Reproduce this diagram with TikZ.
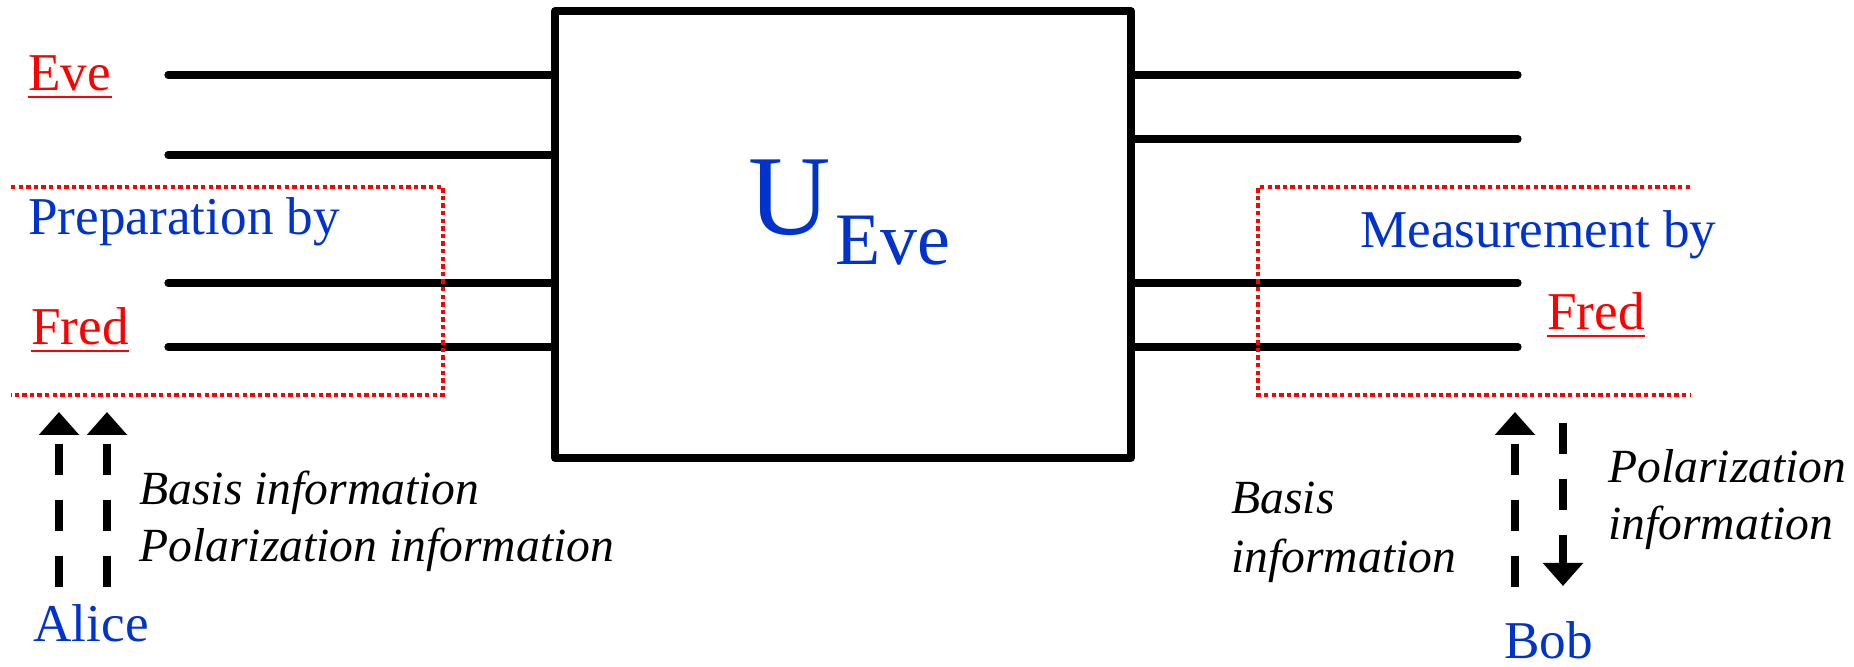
\documentclass[tikz,border=0pt]{standalone}
\usepackage{fontspec}
\setmainfont{LiberationSerif}[Extension=.ttf,UprightFont=*-Regular,ItalicFont=*-Italic,BoldFont=*-Bold,BoldItalicFont=*-BoldItalic]
\usetikzlibrary{arrows.meta}
\definecolor{ublue}{RGB}{0,51,204}
\begin{document}
\begin{tikzpicture}[x=0.5pt,y=-0.5pt,
  wire/.style={line width=3.6pt,line cap=round},
  lbl/.style={inner sep=0,anchor=base west,font=\fontsize{26.6}{30}\selectfont},
  who/.style={lbl,text=ublue},
  party/.style={lbl,text=red},
  info/.style={inner sep=0,anchor=base west,font=\fontsize{23.8}{27}\selectfont\itshape},
  zone/.style={red,line width=1.9pt,dash pattern=on 2.2pt off 1.6pt},
  flow/.style={line width=4.1pt,dash pattern=on 15.5pt off 12.5pt,
    -{Triangle[width=19.5pt,length=11.5pt]}},
  uline/.style={red,line width=1.1pt}]
\useasboundingbox (0,0) rectangle (1854,667);

% the unitary box
\node[draw,line width=3.7pt,line join=round,inner sep=0,
      minimum width=288pt,minimum height=223.5pt] (box) at (843,234.5) {};
\node[inner sep=0,anchor=base west,text=ublue,font=\fontsize{57}{60}\selectfont] (uu) at (748,235) {U};
\node[inner sep=0,anchor=base west,text=ublue,font=\fontsize{37}{40}\selectfont] (usub) at (835,265) {Eve};

% input wires
\coordinate (l1) at (168,75);
\coordinate (l2) at (168,155);
\coordinate (l3) at (168,283);
\coordinate (l4) at (168,347);
\foreach \w in {l1,l2,l3,l4} \draw[wire] (\w) -- (\w -| box.west);

% output wires
\coordinate (r1) at (1518,75);
\coordinate (r2) at (1518,139);
\coordinate (r3) at (1518,283);
\coordinate (r4) at (1518,347);
\foreach \w in {r1,r2,r3,r4} \draw[wire] (\w -| box.east) -- (\w);

% Fred's regions
\coordinate (pz1) at (11,187);
\coordinate (pz2) at (443,187);
\coordinate (pz3) at (443,395);
\coordinate (pz4) at (11,395);
\draw[zone] (pz1) -- (pz2) -- (pz3) -- (pz4);
\coordinate (mz1) at (1690,187);
\coordinate (mz2) at (1258,187);
\coordinate (mz3) at (1258,395);
\coordinate (mz4) at (1690,395);
\draw[zone] (mz1) -- (mz2) -- (mz3) -- (mz4);

% left labels
\node[party] (eve) at (28,91) {Eve};
\draw[uline] ([yshift=-2.9pt]eve.base west) -- ([yshift=-2.9pt]eve.base east);
\node[who] (prep) at (28,235) {Preparation by};
\node[party] (fredL) at (31,345) {Fred};
\draw[uline] ([yshift=-2.9pt]fredL.base west) -- ([yshift=-2.9pt]fredL.base east);
\node[who] (alice) at (33,642) {Alice};
\node[info] (basisL) at (139,505) {Basis information};
\node[info] (polL) at (139,562) {Polarization information};

% right labels
\node[who] (meas) at (1360,248) {Measurement by};
\node[party] (fredR) at (1547,330) {Fred};
\draw[uline] ([yshift=-2.9pt]fredR.base west) -- ([yshift=-2.9pt]fredR.base east);
\node[who] (bob) at (1504,659) {Bob};
\node[info] (basisR) at (1231,514) {Basis};
\node[info] (basisR2) at (1231,573) {information};
\node[info] (polR) at (1608,483) {Polarization};
\node[info] (polR2) at (1608,540) {information};

% classical information flows
\coordinate (a1s) at (59,587);
\coordinate (a1e) at (59,412);
\coordinate (a2s) at (107,587);
\coordinate (a2e) at (107,412);
\draw[flow] (a1s) -- (a1e);
\draw[flow] (a2s) -- (a2e);
\coordinate (b1s) at (1515,587);
\coordinate (b1e) at (1515,412);
\coordinate (b2s) at (1563,423);
\coordinate (b2e) at (1563,586);
\draw[flow] (b1s) -- (b1e);
\draw[flow] (b2s) -- (b2e);
\end{tikzpicture}
\end{document}
